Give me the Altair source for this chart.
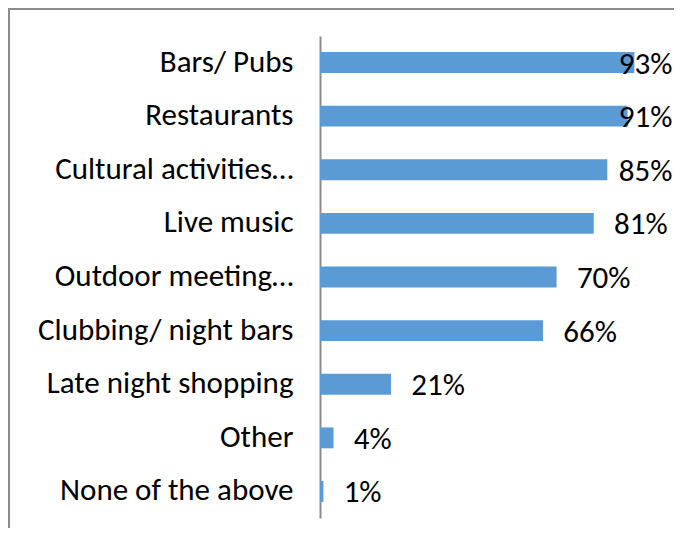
import altair as alt
import pandas as pd

categories = ["Bars/ Pubs", "Restaurants", "Cultural activities…", "Live music",
              "Outdoor meeting…", "Clubbing/ night bars", "Late night shopping",
              "Other", "None of the above"]
values = [93, 91, 85, 81, 70, 66, 21, 4, 1]
labels = ["93%", "91%", "85%", "81%", "70%", "66%", "21%", "4%", "1%"]

df = pd.DataFrame({"cat": categories, "val": values, "lab": labels})

FONT = "Carlito, Lato"
FS = 31

y_enc = alt.Y("cat:N", sort=categories, title=None,
              scale=alt.Scale(paddingInner=0.61, paddingOuter=0.3),
              axis=alt.Axis(domainColor="#8c8c8c", domainWidth=2, ticks=False,
                            labelFont=FONT, labelFontSize=FS, labelColor="#000000",
                            labelPadding=27, labelLimit=400, grid=False))
x_scale = alt.Scale(domain=[0, 100])

bars = alt.Chart(df).mark_bar(color="#5B9BD5").encode(
    x=alt.X("val:Q", scale=x_scale, axis=None),
    y=y_enc,
)

text = alt.Chart(df).transform_calculate(
    pos="min(datum.val + 6, 88.4)"
).mark_text(align="left", baseline="middle", dy=2, font=FONT, fontSize=FS,
            color="#000000").encode(
    x=alt.X("pos:Q", scale=x_scale, axis=None),
    y=alt.Y("cat:N", sort=categories),
    text="lab:N",
)

border = alt.Chart(df).mark_rect(filled=False, stroke="#8c8c8c", strokeWidth=2).encode(
    x=alt.value(-311), x2=alt.value(500), y=alt.value(-27), y2=alt.value(700)
).transform_filter("datum.val == 93")

chart = alt.layer(border, bars, text).properties(
    width=338, height=482,
    padding={"left": 312, "top": 28, "right": 16, "bottom": 10},
    autosize=alt.AutoSizeParams(type="none"),
    background="white",
).configure_view(stroke=None)

chart.save("out.html", embed_options={"renderer": "svg", "actions": False})
